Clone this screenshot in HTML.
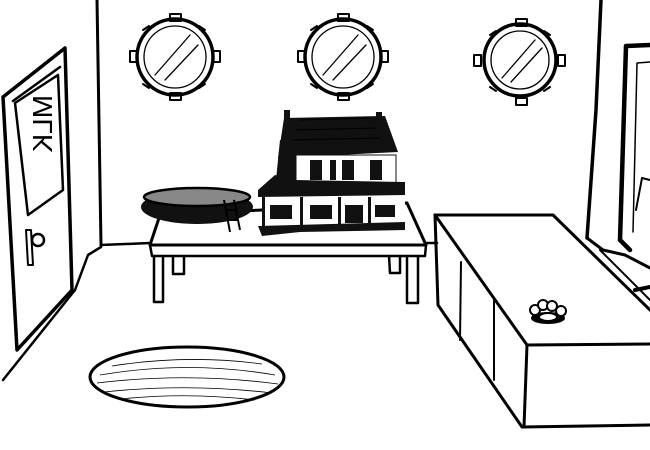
<!DOCTYPE html>
<html><head><meta charset="utf-8"><style>html,body{margin:0;padding:0;background:#fff}svg{display:block}</style></head>
<body>
<svg width="650" height="450" viewBox="0 0 650 450" xmlns="http://www.w3.org/2000/svg">
<rect width="650" height="450" fill="#fff"/>
<g fill="none" stroke="#000" stroke-width="2.5" stroke-linecap="round" stroke-linejoin="round">
<path d="M97 0 L101 245" stroke-width="3"/>
<path d="M101 245 L150 243"/>
<path d="M425 243 L437 243"/>
<path d="M101 247 L88 255 L75 290"/>
<path d="M75 290 L3 380"/>
<path d="M601 0 L596 110 L587 238" stroke-width="3.5"/>
<path d="M587 238 L603 250 L625 255 L650 268" stroke-width="3"/>
<path d="M600 250 L650 300" stroke-width="2"/>
<path d="M635 290 L650 287" stroke-width="4"/>
<path d="M650 45 L626 46 L620 240 L630 250" stroke-width="4.5"/>
<path d="M650 62 L637 63 L633 232" stroke-width="1.5"/>
<path d="M650 180 L642 178 L636 210" stroke-width="2"/>
<path d="M3 97 L65 48 L72 290 L17 350 Z" stroke-width="3.5"/>
<path d="M13 101 L60 67"/>
<path d="M15 103 L58 75 L63 190 L28 215 Z"/>
<circle cx="38" cy="240" r="6"/>
<path d="M26 230 L28 265 L33 265 L31 230 Z" stroke-width="2"/>
<g stroke-width="3.5">
<circle cx="175" cy="57" r="38"/>
<circle cx="343" cy="57" r="38"/>
<circle cx="520" cy="60" r="36"/>
</g>
<g stroke-width="1.3">
<circle cx="175" cy="57" r="31"/><path d="M155 75 L190 35 M165 80 L198 45"/>
<circle cx="343" cy="57" r="31"/><path d="M323 75 L358 35 M333 80 L366 45"/>
<circle cx="520" cy="60" r="29"/><path d="M502 78 L535 40 M511 82 L542 48"/>
</g>
<g stroke-width="2">
<rect x="170" y="14" width="11" height="7"/><rect x="170" y="93" width="11" height="7"/><rect x="130" y="51" width="7" height="11"/><rect x="213" y="51" width="7" height="11"/>
<rect x="338" y="14" width="11" height="7"/><rect x="338" y="93" width="11" height="7"/><rect x="298" y="51" width="7" height="11"/><rect x="381" y="51" width="7" height="11"/>
<rect x="516" y="19" width="11" height="7"/><rect x="516" y="98" width="11" height="7"/><rect x="474" y="55" width="7" height="11"/><rect x="558" y="55" width="7" height="11"/>
<path d="M143 30 l6 -4 M205 30 l-6 -4 M143 84 l6 4 M205 84 l-6 4"/>
<path d="M311 30 l6 -4 M373 30 l-6 -4 M311 84 l6 4 M373 84 l-6 4"/>
<path d="M490 35 l6 -4 M550 35 l-6 -4 M490 87 l6 4 M550 87 l-6 4"/>
</g>
<path d="M160 215 L407 203 L426 245 L150 245 Z" stroke-width="3"/>
<path d="M150 245 L152 256 L425 256 L426 245"/>
<path d="M154 256 L154 302 L163 302 L163 256"/>
<path d="M173 256 L173 274 L184 274 L184 256"/>
<path d="M407 256 L407 303 L418 303 L418 256"/>
<path d="M389 256 L390 273 L400 273 L400 256"/>
<path d="M435 215 L553 215 L650 310" stroke-width="3"/>
<path d="M435 215 L527 345 L650 344" stroke-width="3"/>
<path d="M435 215 L438 305 L522 427 L650 425" stroke-width="3"/>
<path d="M527 345 L524 427" stroke-width="3"/>
<path d="M461 262 L460 340 M494 298 L494 380" stroke-width="2"/>
<ellipse cx="187" cy="377" rx="97" ry="30" stroke-width="3"/>
</g>
<g fill="none" stroke="#000" stroke-width="0.8">
<path d="M100 375 Q188 360 275 375 M97 383 Q188 372 278 384 M104 392 Q188 383 272 393 M120 399 Q188 392 255 400 M112 366 Q188 354 262 364"/>
</g>
<ellipse cx="197" cy="207" rx="56" ry="17" fill="#111"/>
<ellipse cx="197" cy="197" rx="53" ry="9" fill="#888" stroke="#000" stroke-width="2.5"/>
<path d="M224 200 L230 232 M234 200 L240 230 M226 210 L236 210 M228 220 L238 220" stroke="#000" stroke-width="2"/>
<polygon points="284,118 385,116 398,152 278,158" fill="#111"/>
<rect x="284" y="110" width="6" height="10" fill="#111"/><rect x="376" y="112" width="6" height="8" fill="#111"/>
<polygon points="280,140 296,140 296,190 275,190" fill="#111"/>
<rect x="296" y="155" width="100" height="33" fill="#fff" stroke="#111" stroke-width="1"/>
<g fill="#111">
<rect x="310" y="160" width="12" height="20"/><rect x="330" y="160" width="6" height="20"/><rect x="342" y="160" width="12" height="20"/><rect x="370" y="160" width="12" height="20"/>
</g>
<polygon points="258,190 275,175 295,180 405,182 405,195 258,197" fill="#111"/>
<rect x="262" y="197" width="143" height="30" fill="#fff"/>
<g fill="#111">
<rect x="262" y="197" width="3" height="30"/><rect x="300" y="197" width="3" height="30"/><rect x="338" y="197" width="3" height="30"/><rect x="368" y="197" width="3" height="30"/>
<rect x="270" y="205" width="22" height="14"/><rect x="310" y="205" width="22" height="14"/><rect x="345" y="205" width="18" height="18"/><rect x="375" y="205" width="20" height="12"/>
<polygon points="258,226 405,222 405,230 300,232 262,236"/>
</g>
<g fill="#fff" stroke="#000" stroke-width="1">
<path d="M300 120 l70 -2 M296 130 l80 -2 M292 140 l88 -2"/>
</g>
<g fill="#fff" stroke="#000" stroke-width="2">
<ellipse cx="548" cy="318" rx="16" ry="5" fill="#000"/>
<circle cx="535" cy="310" r="5"/><circle cx="543" cy="305" r="5"/><circle cx="552" cy="306" r="5"/><circle cx="561" cy="311" r="5"/>
<ellipse cx="548" cy="317" rx="9" ry="4"/>
</g>
<text x="0" y="0" font-family="Liberation Sans, sans-serif" font-size="28" transform="translate(52 95) rotate(90) scale(1,-1)" fill="#000">MLK</text>
</svg>
</body></html>
